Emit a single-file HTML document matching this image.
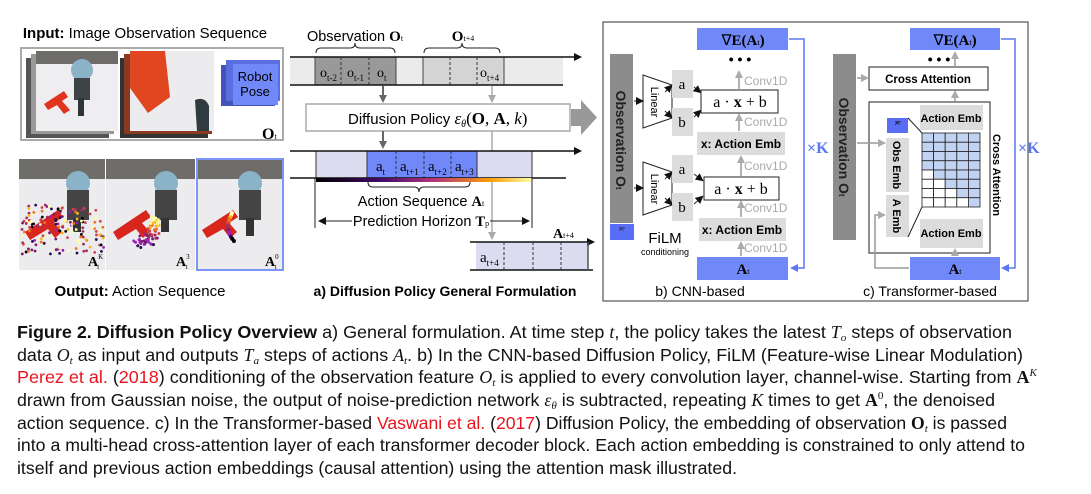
<!DOCTYPE html>
<html><head><meta charset="utf-8"><style>
html,body{margin:0;padding:0;background:#fff;}
svg{display:block;font-family:"Liberation Sans",sans-serif;}
.s{font-family:"Liberation Serif",serif;}
</style></head><body>
<svg id="sv" width="1091" height="494" viewBox="0 0 1091 494" xmlns="http://www.w3.org/2000/svg">
<defs>
<marker id="ad" markerWidth="8" markerHeight="8" refX="6" refY="4" orient="auto" markerUnits="userSpaceOnUse"><path d="M0,0 L8,4 L0,8z" fill="#666"/></marker>
<marker id="al" markerWidth="8" markerHeight="8" refX="6" refY="4" orient="auto" markerUnits="userSpaceOnUse"><path d="M0,0 L8,4 L0,8z" fill="#aaa"/></marker>
<marker id="ak" markerWidth="8" markerHeight="8" refX="6" refY="4" orient="auto" markerUnits="userSpaceOnUse"><path d="M0,0 L8,4 L0,8z" fill="#111"/></marker>
<marker id="ab" markerWidth="8" markerHeight="8" refX="6" refY="4" orient="auto" markerUnits="userSpaceOnUse"><path d="M0,0 L8,4 L0,8z" fill="#5a78f0"/></marker>
<linearGradient id="inf" x1="0" x2="1"><stop offset="0" stop-color="#000"/><stop offset=".3" stop-color="#420a68"/><stop offset=".55" stop-color="#b5367a"/><stop offset=".8" stop-color="#fb9b06"/><stop offset="1" stop-color="#fcffa4"/></linearGradient>
</defs>

<!-- LEFT PANEL -->
<text x="145" y="38" font-size="15" text-anchor="middle"><tspan font-weight="bold">Input:</tspan> Image Observation Sequence</text>
<rect x="21" y="48" width="262" height="92" fill="#fff" stroke="#aaa" stroke-width="2"/>
<rect x="26" y="58" width="83" height="80" fill="#555"/>
<rect x="31" y="54" width="83" height="80" fill="#999"/>
<rect x="36" y="51" width="82" height="80" fill="#eeedf0"/>
<rect x="36" y="51" width="82" height="13" fill="#6e6c68"/>
<circle cx="82" cy="70" r="11" fill="#8ab3c8"/>
<rect x="74" y="78" width="16" height="22" fill="#3e4348"/>
<rect x="78" y="98" width="6" height="18" fill="#2f3438"/>
<path d="M44,104 L64,91 L68,97 L62,101 L70,110 L64,114 L57,105 L48,110z" fill="#e0341e"/>
<rect x="120" y="58" width="88" height="80" fill="#333"/>
<rect x="124" y="54" width="88" height="80" fill="#8a3a22"/>
<rect x="130" y="51" width="84" height="80" fill="#ecebee"/>
<path d="M130,51 L165,51 L170,97 L148,113 L130,88z" fill="#e0461f"/>
<path d="M195,100 q10,-4 14,6 l0,25 l-12,0z" fill="#2f3b40"/>
<rect x="221" y="65" width="54" height="41" fill="#4453b8"/>
<rect x="226" y="60" width="54" height="41" fill="#5a6ee0"/>
<rect x="233" y="64" width="45" height="41" fill="#7189f8"/>
<text x="255" y="81" font-size="13" text-anchor="middle">Robot</text>
<text x="255" y="96" font-size="13" text-anchor="middle">Pose</text>
<text x="262" y="139" class="s" font-size="16" font-weight="bold">O<tspan font-size="8" font-weight="normal">t</tspan></text>

<g id="imgs">
<rect x="19" y="159" width="86" height="111" fill="#ecebee"/>
<rect x="106" y="159" width="89" height="111" fill="#ecebee"/>
<rect x="197" y="159" width="86" height="111" fill="#ecebee"/>
<rect x="19" y="159" width="86" height="20" fill="#6f6d69"/>
<rect x="106" y="159" width="89" height="20" fill="#6f6d69"/>
<rect x="197" y="159" width="86" height="20" fill="#6f6d69"/>
<circle cx="78" cy="183" r="12" fill="#8ab3c8"/><rect x="67" y="190" width="22" height="30" fill="#444"/><rect x="73" y="218" width="8" height="14" fill="#333"/>
<circle cx="166" cy="183" r="12" fill="#8ab3c8"/><rect x="155" y="190" width="22" height="30" fill="#444"/><rect x="161" y="218" width="8" height="14" fill="#333"/>
<circle cx="250" cy="183" r="12" fill="#8ab3c8"/><rect x="239" y="190" width="22" height="30" fill="#444"/><rect x="246" y="218" width="8" height="18" fill="#333"/>
<path d="M25,232 L58,210 L63,217 L54,223 L62,232 L55,238 L48,229 L30,240z" fill="#d8261c"/>
<path d="M113,232 L146,210 L151,217 L142,223 L150,232 L143,238 L136,229 L118,240z" fill="#d8261c"/>
<path d="M202,230 L233,210 L238,217 L229,223 L237,232 L230,238 L223,229 L207,238z" fill="#d8261c"/>
<g id="dots"></g>
<rect x="197" y="159" width="86" height="111" fill="none" stroke="#7d95f7" stroke-width="2"/>
<text x="88" y="266" class="s" font-size="14" font-weight="bold">A<tspan font-size="7" font-weight="normal" dy="-7">K</tspan><tspan font-size="7" font-weight="normal" dx="-6" dy="10">t</tspan></text>
<text x="176" y="266" class="s" font-size="14" font-weight="bold">A<tspan font-size="7" font-weight="normal" dy="-7">3</tspan><tspan font-size="7" font-weight="normal" dx="-4" dy="10">t</tspan></text>
<text x="265" y="266" class="s" font-size="14" font-weight="bold">A<tspan font-size="7" font-weight="normal" dy="-7">0</tspan><tspan font-size="7" font-weight="normal" dx="-4" dy="10">t</tspan></text>
</g>
<text x="140" y="296" font-size="15" text-anchor="middle"><tspan font-weight="bold">Output:</tspan>  Action Sequence</text>

<!-- MIDDLE -->
<text x="355" y="41" font-size="14.5" text-anchor="middle">Observation <tspan class="s" font-weight="bold" font-size="15">O</tspan><tspan class="s" font-size="8">t</tspan></text>
<text x="463" y="41" class="s" font-size="15" font-weight="bold" text-anchor="middle">O<tspan font-size="8" font-weight="normal">t+4</tspan></text>
<path d="M316,53 q0,-5 5,-5 h29 q5,0 5,-5 q0,5 5,5 h30 q5,0 5,5" fill="none" stroke="#222" stroke-width="1"/>
<path d="M424,53 q0,-5 5,-5 h28 q5,0 5,-5 q0,5 5,5 h28 q5,0 5,5" fill="none" stroke="#222" stroke-width="1"/>
<rect x="290" y="57" width="273" height="28" fill="#ebebeb"/>
<rect x="315" y="57" width="81" height="28" fill="#999" stroke="#444"/>
<rect x="423" y="57" width="81" height="28" fill="#d4d4d4" stroke="#444"/>
<line x1="290" y1="57" x2="580" y2="57" stroke="#111" stroke-width="1.5" marker-end="url(#ak)"/>
<line x1="290" y1="85" x2="563" y2="85" stroke="#111" stroke-width="1.5"/>
<g stroke="#333" stroke-dasharray="3,2"><line x1="341" y1="57" x2="341" y2="85"/><line x1="369" y1="57" x2="369" y2="85"/><line x1="450" y1="57" x2="450" y2="85"/><line x1="477" y1="57" x2="477" y2="85"/></g>
<g class="s" font-size="14"><text x="320" y="77">o<tspan font-size="9" dy="4">t-2</tspan></text><text x="347" y="77">o<tspan font-size="9" dy="4">t-1</tspan></text><text x="377" y="77">o<tspan font-size="9" dy="4">t</tspan></text><text x="480" y="77">o<tspan font-size="9" dy="4">t+4</tspan></text></g>
<line x1="383" y1="86" x2="383" y2="101" stroke="#666" stroke-width="2" marker-end="url(#ad)"/>
<line x1="492" y1="86" x2="492" y2="101" stroke="#aaa" stroke-width="1.5" marker-end="url(#al)"/>
<rect x="306" y="104" width="264" height="27" fill="#fff" stroke="#aaa" stroke-width="1.5"/>
<text x="348" y="124" font-size="15">Diffusion Policy <tspan class="s" font-style="italic" font-size="17">ε<tspan font-size="10" dy="3">θ</tspan><tspan dy="-3" font-style="normal">(</tspan><tspan font-weight="bold" font-style="normal">O</tspan><tspan font-style="normal">, </tspan><tspan font-weight="bold" font-style="normal">A</tspan><tspan font-style="normal">, </tspan>k<tspan font-style="normal">)</tspan></tspan></text>
<path d="M571,109 h10 v-9 l16,17.5 l-16,17.5 v-9 h-10z" fill="#999"/>
<line x1="383" y1="131" x2="383" y2="147" stroke="#666" stroke-width="2" marker-end="url(#ad)"/>
<line x1="492" y1="131" x2="492" y2="238" stroke="#aaa" stroke-width="1.5" marker-end="url(#al)"/>
<rect x="316" y="151" width="216" height="27" fill="#dcdcf0" stroke="#333"/>
<rect x="367" y="151" width="110" height="27" fill="#7189f8" stroke="#333"/>
<line x1="290" y1="151" x2="580" y2="151" stroke="#111" stroke-width="1.5" marker-end="url(#ak)"/>
<line x1="290" y1="178" x2="566" y2="178" stroke="#111" stroke-width="1.5"/>
<g stroke="#333" stroke-dasharray="3,2"><line x1="396" y1="151" x2="396" y2="178"/><line x1="424" y1="151" x2="424" y2="178"/><line x1="451" y1="151" x2="451" y2="178"/></g>
<g class="s" font-size="15"><text x="376" y="171">a<tspan font-size="9" dy="4">t</tspan></text><text x="400" y="171">a<tspan font-size="9" dy="4">t+1</tspan></text><text x="428" y="171">a<tspan font-size="9" dy="4">t+2</tspan></text><text x="455" y="171">a<tspan font-size="9" dy="4">t+3</tspan></text></g>
<rect x="316" y="178" width="216" height="4" fill="url(#inf)"/>
<path d="M368,182 q0,5 5,5 h41 q5,0 5,5 q0,-5 5,-5 h41 q5,0 5,-5" fill="none" stroke="#222"/>
<text x="421" y="206" font-size="14.5" text-anchor="middle">Action Sequence <tspan class="s" font-weight="bold">A</tspan><tspan class="s" font-size="8">t</tspan></text>
<line x1="315" y1="178" x2="315" y2="228" stroke="#222"/>
<line x1="532" y1="178" x2="532" y2="228" stroke="#222"/>
<line x1="352" y1="221" x2="320" y2="221" stroke="#222" marker-end="url(#ak)"/>
<line x1="490" y1="221" x2="528" y2="221" stroke="#222" marker-end="url(#ak)"/>
<text x="421" y="226" font-size="14.5" text-anchor="middle">Prediction Horizon <tspan class="s" font-weight="bold">T</tspan><tspan class="s" font-size="8">p</tspan></text>
<text x="553" y="238" class="s" font-size="14" font-weight="bold">A<tspan font-size="8" font-weight="normal">t+4</tspan></text>
<rect x="476" y="242" width="112" height="28" fill="#dcdcf0"/>
<line x1="470" y1="242" x2="593" y2="242" stroke="#111" stroke-width="1.5" marker-end="url(#ak)"/>
<line x1="470" y1="270" x2="593" y2="270" stroke="#111" stroke-width="1.5"/>
<line x1="588" y1="242" x2="588" y2="270" stroke="#555" stroke-width="1.5"/>
<g stroke="#333" stroke-dasharray="3,2"><line x1="504" y1="242" x2="504" y2="270"/><line x1="533" y1="242" x2="533" y2="270"/><line x1="561" y1="242" x2="561" y2="270"/></g>
<text x="480" y="262" class="s" font-size="15">a<tspan font-size="9" dy="4">t+4</tspan></text>
<text x="445" y="296" font-size="14" font-weight="bold" text-anchor="middle">a) Diffusion Policy General Formulation</text>

<!-- RIGHT BOX -->
<rect x="603" y="22" width="425" height="279" fill="none" stroke="#555" stroke-width="1.2"/>
<!-- CNN -->
<rect x="610" y="54" width="23" height="169" fill="#8c8c8c"/>
<text transform="translate(616,140) rotate(90)" font-size="14" font-weight="bold" text-anchor="middle" fill="#222">Observation O<tspan font-size="8">t</tspan></text>
<rect x="610" y="224" width="24" height="16" fill="#5a6ef5"/>
<text transform="translate(619,229) rotate(90)" font-size="8" text-anchor="middle" fill="#222">k</text>
<path d="M643,75 L672,85 L672,118 L643,128z" fill="#fff" stroke="#222"/>
<path d="M643,162 L672,172 L672,205 L643,215z" fill="#fff" stroke="#222"/>
<text transform="translate(651,102) rotate(90)" font-size="11" text-anchor="middle">Linear</text>
<text transform="translate(651,189) rotate(90)" font-size="11" text-anchor="middle">Linear</text>
<line x1="634" y1="101" x2="642" y2="101" stroke="#222" marker-end="url(#ak)"/>
<line x1="634" y1="188" x2="642" y2="188" stroke="#222" marker-end="url(#ak)"/>
<g fill="#dcdcdc"><rect x="672" y="70" width="21" height="28"/><rect x="672" y="108" width="21" height="28"/><rect x="672" y="155" width="21" height="28"/><rect x="672" y="193" width="21" height="28"/></g>
<g class="s" font-size="15" text-anchor="middle"><text x="682" y="89">a</text><text x="682" y="127">b</text><text x="682" y="174">a</text><text x="682" y="212">b</text></g>
<g stroke="#222" marker-end="url(#ak)"><line x1="665" y1="92" x2="671" y2="86"/><line x1="665" y1="111" x2="671" y2="117"/><line x1="665" y1="179" x2="671" y2="173"/><line x1="665" y1="198" x2="671" y2="204"/>
<line x1="694" y1="87" x2="700" y2="92"/><line x1="694" y1="117" x2="700" y2="111"/><line x1="694" y1="174" x2="702" y2="180"/><line x1="694" y1="204" x2="702" y2="197"/></g>
<rect x="701" y="90" width="77" height="23" fill="#fff" stroke="#222"/>
<rect x="704" y="177" width="75" height="23" fill="#fff" stroke="#222"/>
<text x="740" y="107" class="s" font-size="16" text-anchor="middle">a · <tspan font-weight="bold">x</tspan> + b</text>
<text x="741" y="194" class="s" font-size="16" text-anchor="middle">a · <tspan font-weight="bold">x</tspan> + b</text>
<rect x="697" y="132" width="88" height="23" fill="#dcdcdc"/>
<rect x="699" y="218" width="87" height="23" fill="#dcdcdc"/>
<text x="741" y="148" font-size="12" font-weight="bold" text-anchor="middle">x: Action Emb</text>
<text x="742" y="234" font-size="12" font-weight="bold" text-anchor="middle">x: Action Emb</text>
<rect x="697" y="28" width="91" height="22" fill="#7189f8"/>
<text x="743" y="45" class="s" font-size="15" text-anchor="middle">∇<tspan font-weight="bold">E(A</tspan><tspan font-size="8">t</tspan><tspan font-weight="bold">)</tspan></text>
<rect x="697" y="257" width="91" height="23" fill="#7189f8"/>
<text x="743" y="274" class="s" font-size="15" font-weight="bold" text-anchor="middle">A<tspan font-size="8" font-weight="normal">t</tspan></text>
<text x="740" y="64" font-size="14" font-weight="bold" text-anchor="middle">• • •</text>
<g stroke="#999" stroke-width="1.5" marker-end="url(#al)"><line x1="739" y1="89" x2="739" y2="72"/><line x1="739" y1="131" x2="739" y2="115"/><line x1="741" y1="176" x2="741" y2="157"/><line x1="741" y1="217" x2="741" y2="202"/><line x1="741" y1="256" x2="741" y2="243"/></g>
<g fill="#aaa" font-size="12"><text x="744" y="85">Conv1D</text><text x="744" y="126">Conv1D</text><text x="744" y="170">Conv1D</text><text x="744" y="212">Conv1D</text><text x="744" y="252">Conv1D</text></g>
<text x="665" y="243" font-size="15" text-anchor="middle">FiLM</text>
<text x="665" y="255" font-size="9" text-anchor="middle">conditioning</text>
<path d="M789,39 H804 V268 H792" fill="none" stroke="#5a78f0" stroke-width="1.5" marker-end="url(#ab)"/>
<text x="807" y="153" class="s" font-size="16" font-weight="bold" fill="#5a78f0">×K</text>
<text x="700" y="296" font-size="14" text-anchor="middle">b) CNN-based</text>

<!-- Transformer -->
<rect x="833" y="54" width="23" height="186" fill="#8c8c8c"/>
<text transform="translate(839,147) rotate(90)" font-size="14" font-weight="bold" text-anchor="middle" fill="#222">Observation O<tspan font-size="8">t</tspan></text>
<rect x="869" y="67" width="119" height="23" fill="#fff" stroke="#222"/>
<text x="928" y="83" font-size="11.5" font-weight="bold" text-anchor="middle">Cross Attention</text>
<line x1="857" y1="78" x2="867" y2="78" stroke="#999" stroke-width="1.5" marker-end="url(#al)"/>
<rect x="910" y="28" width="90" height="22" fill="#7189f8"/>
<text x="955" y="45" class="s" font-size="15" text-anchor="middle">∇<tspan font-weight="bold">E(A</tspan><tspan font-size="8">t</tspan><tspan font-weight="bold">)</tspan></text>
<text x="939" y="64" font-size="14" font-weight="bold" text-anchor="middle">• • •</text>
<line x1="955" y1="66" x2="955" y2="53" stroke="#999" stroke-width="1.5" marker-end="url(#al)"/>
<line x1="955" y1="101" x2="955" y2="92" stroke="#999" stroke-width="1.5" marker-end="url(#al)"/>
<rect x="869" y="102" width="121" height="151" fill="none" stroke="#444" stroke-width="1.2"/>
<rect x="920" y="105" width="63" height="25" fill="#dcdcdc"/>
<text x="951" y="122" font-size="11" font-weight="bold" text-anchor="middle">Action Emb</text>
<rect x="887" y="118" width="21" height="15" fill="#5a6ef5"/>
<text transform="translate(895,123) rotate(90)" font-size="8" text-anchor="middle">k</text>
<rect x="886" y="138" width="23" height="54" fill="#dcdcdc"/>
<text transform="translate(893,165) rotate(90)" font-size="11" font-weight="bold" text-anchor="middle">Obs Emb</text>
<rect x="886" y="195" width="23" height="42" fill="#dcdcdc"/>
<text transform="translate(893,216) rotate(90)" font-size="11" font-weight="bold" text-anchor="middle">A Emb</text>
<line x1="857" y1="143" x2="884" y2="143" stroke="#999" stroke-width="1.5" marker-end="url(#al)"/>
<g id="grid"></g>
<line x1="908" y1="118" x2="922" y2="133" stroke="#222"/>
<line x1="908" y1="237" x2="922" y2="207" stroke="#222"/>
<rect x="920" y="219" width="63" height="29" fill="#dcdcdc"/>
<text x="951" y="237" font-size="11" font-weight="bold" text-anchor="middle">Action Emb</text>
<line x1="955" y1="256" x2="955" y2="250" stroke="#999" stroke-width="1.5" marker-end="url(#al)"/>
<text transform="translate(993,175) rotate(90)" font-size="11" font-weight="bold" text-anchor="middle">Cross Attention</text>
<rect x="910" y="257" width="90" height="23" fill="#7189f8"/>
<text x="955" y="274" class="s" font-size="15" font-weight="bold" text-anchor="middle">A<tspan font-size="8" font-weight="normal">t</tspan></text>
<path d="M909,268 H875 V215 H884" fill="none" stroke="#999" stroke-width="1.5" marker-end="url(#al)"/>
<path d="M1001,39 H1015 V268 H1003" fill="none" stroke="#5a78f0" stroke-width="1.5" marker-end="url(#ab)"/>
<text x="1018" y="153" class="s" font-size="16" font-weight="bold" fill="#5a78f0">×K</text>
<text x="930" y="296" font-size="14" text-anchor="middle">c) Transformer-based</text>

<!-- CAPTION -->
<g font-size="17.6" fill="#111">
<text x="17" y="338" textLength="995" lengthAdjust="spacingAndGlyphs"><tspan font-weight="bold">Figure 2.  Diffusion Policy Overview</tspan>  a) General formulation. At time step <tspan class="s" font-style="italic">t</tspan>, the policy takes the latest <tspan class="s" font-style="italic">T<tspan font-size="11" dy="3">o</tspan></tspan><tspan dy="-3"> steps of observation</tspan></text>
<text x="17" y="361" textLength="1006" lengthAdjust="spacingAndGlyphs">data <tspan class="s" font-style="italic">O<tspan font-size="11" dy="3">t</tspan></tspan><tspan dy="-3"> as input and outputs </tspan><tspan class="s" font-style="italic">T<tspan font-size="11" dy="3">a</tspan></tspan><tspan dy="-3"> steps of actions </tspan><tspan class="s" font-style="italic">A<tspan font-size="11" dy="3">t</tspan></tspan><tspan dy="-3">. b) In the CNN-based Diffusion Policy, FiLM (Feature-wise Linear Modulation)</tspan></text>
<text x="17" y="383" textLength="1020" lengthAdjust="spacingAndGlyphs"><tspan fill="#e8141c">Perez et al.</tspan> (<tspan fill="#e8141c">2018</tspan>) conditioning of the observation feature <tspan class="s" font-style="italic">O<tspan font-size="11" dy="3">t</tspan></tspan><tspan dy="-3"> is applied to every convolution layer, channel-wise. Starting from </tspan><tspan class="s" font-weight="bold">A<tspan font-size="11" font-style="italic" font-weight="normal" dy="-7">K</tspan></tspan></text>
<text x="17" y="406" textLength="978" lengthAdjust="spacingAndGlyphs">drawn from Gaussian noise, the output of noise-prediction network <tspan class="s" font-style="italic">ε<tspan font-size="11" dy="3">θ</tspan></tspan><tspan dy="-3"> is subtracted, repeating </tspan><tspan class="s" font-style="italic">K</tspan> times to get <tspan class="s" font-weight="bold">A<tspan font-size="11" font-weight="normal" dy="-7">0</tspan></tspan><tspan dy="7">, the denoised</tspan></text>
<text x="17" y="429" textLength="990" lengthAdjust="spacingAndGlyphs">action sequence. c) In the Transformer-based <tspan fill="#e8141c">Vaswani et al.</tspan> (<tspan fill="#e8141c">2017</tspan>) Diffusion Policy, the embedding of observation <tspan class="s" font-weight="bold">O<tspan font-size="11" font-weight="normal" font-style="italic" dy="3">t</tspan></tspan><tspan dy="-3"> is passed</tspan></text>
<text x="17" y="451" textLength="1008" lengthAdjust="spacingAndGlyphs">into a multi-head cross-attention layer of each transformer decoder block. Each action embedding is constrained to only attend to</text>
<text x="17" y="474" textLength="720" lengthAdjust="spacingAndGlyphs">itself and previous action embeddings (causal attention) using the attention mask illustrated.</text>
</g>
</svg>
<script>
(function(){
var NS="http://www.w3.org/2000/svg";
var g=document.getElementById("grid");
var x0=922,y0=133,w=11.6,h=9.25;
for(var r=0;r<8;r++)for(var c=0;c<5;c++){
 var e=document.createElementNS(NS,"rect");
 e.setAttribute("x",x0+c*w);e.setAttribute("y",y0+r*h);e.setAttribute("width",w);e.setAttribute("height",h);
 e.setAttribute("fill",(c<r-3)?"#fff":"#c2d2f2");e.setAttribute("stroke","#222");e.setAttribute("stroke-width","0.8");
 g.appendChild(e);}
var d=document.getElementById("dots");
var s=7;function rnd(){s=(s*9301+49297)%233280;return s/233280;}
var cols=["#fcffa4","#fbb61a","#f1711f","#cf4446","#a52c60","#7b1d6c","#9a21b5","#2a0a55","#000"];
function add(x,y,col,rad){var e=document.createElementNS(NS,"circle");e.setAttribute("cx",x);e.setAttribute("cy",y);e.setAttribute("r",rad);e.setAttribute("fill",col);d.appendChild(e);}
for(var i=0;i<150;i++){add(22+rnd()*82,205+rnd()*50,cols[Math.floor(rnd()*cols.length)],1.4);}
for(var i=0;i<70;i++){var t=rnd();var x=150+10*Math.cos(t*3)+rnd()*8-4, y=215+t*30+rnd()*6;add(x-5+t*20*rnd(),y,cols[Math.floor(t*8)],1.5);}
for(var i=0;i<14;i++){var t=i/13;add(232-Math.sin(t*2.2)*10+t*10,213+t*28,cols[Math.min(8,Math.floor(t*9))],2);}
})();
</script>
</body></html>
